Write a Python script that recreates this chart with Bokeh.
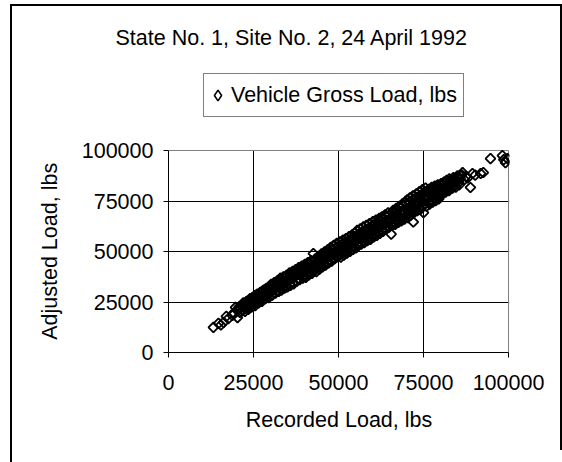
import numpy as np
from bokeh.plotting import figure
from bokeh.models import (ColumnDataSource, Range1d, FixedTicker, Legend, LegendItem)
from bokeh.embed import file_html
from bokeh.resources import INLINE

# ---------------- data ----------------
title_text = "State No. 1, Site No. 2, 24 April 1992"
series_name = "Vehicle Gross Load, lbs"
x_title = "Recorded Load, lbs"
y_title = "Adjusted Load, lbs"
tick_values = [0, 25000, 50000, 75000, 100000]
tick_labels = ["0", "25000", "50000", "75000", "100000"]

light_x = [13200, 14700, 16200, 17600, 18800, 20300, 19700, 15400, 17000, 19200]
light_y = [12400, 14400, 14900, 16800, 18300, 17300, 22300, 13600, 17900, 19600]

b_x = [20500, 21000, 21400, 21800, 22200, 22600, 23000, 23400, 23800, 24200,
       24600, 25000, 25400, 25800, 26200, 26600, 27000, 27400, 27800, 28200,
       28600, 29000, 29400, 29800, 20800, 22400, 24000, 25600, 27200, 28800]
b_y = [21500, 19800, 23200, 21000, 24000, 21800, 25200, 22600, 26000, 23300,
       27000, 24200, 28200, 25000, 28800, 26200, 29800, 26800, 30600, 27600,
       31500, 28400, 32200, 29200, 22600, 23000, 24800, 26400, 28000, 30000]

c_x = [30200, 30500, 30800, 31100, 31400, 31700, 32000, 32300, 32600, 32900,
       33200, 33500, 33800, 34100, 34400, 34700, 35000, 35300, 35600, 35900,
       36200, 36500, 36800, 37100, 37400, 37700, 38000, 38300, 38600, 38900,
       39200, 39500, 39800, 31000, 36000]
c_y = [33800, 28600, 31500, 34600, 29500, 32400, 35500, 30200, 33600, 36800,
       30800, 34200, 37400, 31800, 35000, 38200, 32500, 36000, 39400, 33200,
       37000, 40200, 34000, 38000, 41000, 35200, 38800, 42000, 36000, 39800,
       42800, 36800, 40600, 31200, 36400]

d_x = [40100, 40400, 40700, 41000, 41300, 41600, 41900, 42200, 42600, 42900,
       43200, 43500, 43800, 44100, 44400, 44700, 45000, 45300, 45600, 45900,
       46200, 46500, 46800, 47100, 47400, 47700, 48000, 48300, 48600, 48900,
       49200, 49500, 49800, 42000, 47000]
d_y = [43600, 37200, 41000, 44500, 38400, 42200, 45400, 39200, 49000, 43200,
       46400, 40000, 44000, 47600, 41200, 45000, 48800, 42400, 46400, 49800,
       43200, 47200, 50800, 44400, 48200, 52000, 45200, 49000, 53000, 46400,
       50200, 54000, 47400, 42600, 47400]

e_x = [50100, 50400, 50700, 51000, 51300, 51600, 51900, 52200, 52500, 52800,
       53100, 53400, 53700, 54000, 54300, 54600, 54900, 55200, 55500, 55800,
       56100, 56400, 56700, 57000, 57300, 57600, 57900, 58200, 58500, 58800,
       59100, 59400, 59700, 52000, 57000]
e_y = [51000, 54800, 47200, 52200, 55600, 48200, 53200, 56400, 49200, 54000,
       57400, 50000, 55200, 58200, 51000, 56000, 59200, 51800, 60500, 53000,
       58000, 61200, 53600, 58800, 62200, 54400, 59800, 63000, 55400, 60600,
       63800, 56000, 61400, 52400, 57200]

f_x = [60100, 60400, 60700, 61000, 61300, 61600, 61900, 62200, 62500, 62800,
       63100, 63400, 63700, 64000, 64300, 64600, 64900, 65200, 65500, 65800,
       66100, 66400, 66700, 67000, 67300, 67600, 67900, 68200, 68500, 68800,
       69100, 69400, 69700, 62000, 67000]
f_y = [64800, 57200, 61000, 65600, 58000, 62200, 66000, 59000, 63200, 67200,
       60000, 64200, 68200, 61000, 65000, 69200, 62000, 66200, 58600, 63000,
       70400, 67000, 63400, 71400, 68200, 64400, 72400, 69200, 65200, 73600,
       70000, 66000, 74600, 66400, 67400]

g_x = [70100, 70400, 70700, 71000, 71300, 71600, 71900, 72000, 72300, 72600,
       72900, 73200, 73500, 73800, 74100, 74400, 74700, 75000, 75300, 75600,
       75900, 76200, 76500, 76800, 77100, 77400, 77700, 78000, 78300, 78600,
       78900, 79200, 79500, 79800, 71500, 73500, 75500, 77500]
g_y = [75400, 66800, 71200, 76600, 68000, 72400, 77600, 64600, 69400, 73600,
       78600, 70200, 74800, 79600, 70800, 75600, 80600, 69200, 76200, 81400,
       72400, 77000, 80800, 73400, 78000, 81800, 74400, 78600, 82400, 75200,
       79200, 83000, 76000, 80000, 72000, 74000, 76200, 77800]

h_x = [80200, 80600, 81000, 81400, 81800, 82200, 82600, 83000, 83400, 83800,
       84200, 84600, 85000, 85400, 85800, 86200, 86500, 87000, 87500, 88000,
       88800, 89400, 90200, 91800, 92600]
h_y = [83600, 79400, 84400, 80600, 85200, 81400, 86000, 82200, 84800, 86600,
       83000, 85400, 87400, 84200, 86000, 88000, 89100, 85600, 87200, 86400,
       81700, 88600, 87800, 88600, 89100]

heavy_x = [94700, 98200, 99700, 99100, 98600]
heavy_y = [96000, 97500, 96000, 94000, 95500]

core_x = [21200, 22000, 22800, 23600, 24400, 25200, 26000, 26800, 27600, 28400, 29200, 30000,
          30700, 31400, 32100, 32800, 33500, 34200, 34900, 35600, 36300, 37000, 37700, 38400, 39100, 39800,
          40500, 41200, 41900, 42600, 43300, 44000, 44700, 45400, 46100, 46800, 47500, 48200, 48900, 49600,
          50300, 51000, 51700, 52400, 53100, 53800, 54500, 55200, 55900, 56600, 57300, 58000, 58700, 59400,
          60100, 60800, 61500, 62200, 62900, 63600, 64300, 65000, 65700, 66400, 67100, 67800, 68500, 69200, 69900,
          70600, 71300, 72000, 72700, 73400, 74100, 74800, 75500, 76200, 76900, 77600, 78300, 79000, 79700,
          80400, 81100, 81800, 82500, 83200, 83900, 84600]
core_y = [22000, 22900, 23400, 24600, 25100, 26300, 26700, 27900, 28300, 29500, 29800, 31200,
          31800, 32000, 33400, 33200, 34900, 34800, 36200, 36000, 37600, 37200, 38900, 38600, 40300, 40000,
          41600, 41400, 43000, 42700, 44300, 44100, 45800, 45500, 47000, 46900, 48400, 48300, 49800, 49700,
          51200, 50800, 52600, 52100, 54000, 53500, 55400, 55000, 56800, 56300, 58200, 57800, 59600, 59200,
          61000, 60600, 62600, 62000, 64000, 63300, 65400, 64700, 66800, 66100, 68300, 67400, 69700, 68800, 71000,
          70400, 72600, 71800, 74000, 73100, 75300, 74400, 76600, 75800, 77900, 77200, 79300, 78600, 80600,
          80600, 82000, 81900, 83600, 83700, 84600, 85200]

upper_x = [22000, 23000, 24000, 25000, 26000, 27000, 28000, 29000, 30000, 31000,
           32000, 33000, 34000, 35000, 36000, 37000, 38000, 39000, 40000, 41000,
           42000, 43000, 44000, 45000, 46000, 47000, 48000, 49000, 50000, 51000,
           52000, 53000, 54000, 55000, 56000, 57000, 58000, 59000, 60000, 61000,
           62000, 63000, 64000, 65000, 66000, 67000, 68000, 69000, 70000, 71000,
           72000, 73000, 74000, 75000, 76000, 77000, 78000, 79000, 80000, 81000,
           82000, 83000, 84000, 85000, 86000]
upper_y = [24600, 25300, 26700, 27400, 28800, 29500, 30900, 31600, 32800, 33900,
           34600, 35900, 36500, 37800, 38600, 39700, 40400, 41800, 42600, 43500,
           44800, 45400, 46800, 47500, 48700, 49600, 50800, 51400, 52700, 53600,
           54800, 55500, 56900, 57600, 58800, 59800, 60900, 61700, 63000, 63900,
           65200, 66000, 67300, 68200, 69400, 70300, 71700, 72500, 73800, 74600,
           75900, 76800, 77800, 78900, 79700, 80600, 81400, 82300, 82900, 83800,
           84500, 85300, 85900, 86800, 87400]

lower_x = [22500, 23500, 24500, 25500, 26500, 27500, 28500, 29500, 30500, 31500,
           32500, 33500, 34500, 35500, 36500, 37500, 38500, 39500, 40500, 41500,
           42500, 43500, 44500, 45500, 46500, 47500, 48500, 49500, 50500, 51500,
           52500, 53500, 54500, 55500, 56500, 57500, 58500, 59500, 60500, 61500,
           62500, 63500, 64500, 65500, 66500, 67500, 68500, 69500, 70500, 71500,
           72500, 73500, 74500, 75500, 76500, 77500, 78500, 79500, 80500, 81500,
           82500, 83500, 84500, 85500]
lower_y = [20400, 21300, 22600, 23200, 24500, 25300, 26600, 27200, 28400, 29500,
           30400, 31600, 32300, 33700, 34400, 35600, 36500, 37600, 38300, 39700,
           40400, 41700, 42300, 43600, 44500, 45600, 46300, 47700, 48400, 49600,
           50300, 51700, 52400, 53600, 54500, 55400, 56600, 57300, 58600, 59400,
           60300, 61700, 62400, 63500, 64600, 65300, 66700, 67400, 68500, 69600,
           70200, 71600, 72300, 73500, 74400, 75200, 76500, 77200, 78300, 79400,
           80100, 81300, 81900, 83000]

recorded_load = (light_x + b_x + core_x + upper_x + lower_x + c_x + d_x + e_x
                 + f_x + g_x + h_x + heavy_x)
adjusted_load = (light_y + b_y + core_y + upper_y + lower_y + c_y + d_y + e_y
                 + f_y + g_y + h_y + heavy_y)

# ---------------- layout (pixels) ----------------
FONT = "Liberation Sans"
FS = "21.5px"
LEFT, TOP, BOTTOM = 168, 72, 94
PLOT_W, PLOT_H = 340, 202          # the value area 0..100000 x 0..100000
EXTRA_TOP = 78                     # frame space above the value area (legend lives there)
FRAME_W, FRAME_H = PLOT_W + 1, PLOT_H + EXTRA_TOP
RIGHT = 546 - LEFT - FRAME_W

lo, hi = tick_values[0], tick_values[-1]
x_end = hi * FRAME_W / PLOT_W
y_end = hi * FRAME_H / PLOT_H

p = figure(frame_width=FRAME_W, frame_height=FRAME_H,
           min_border_left=LEFT, min_border_right=RIGHT,
           min_border_top=TOP, min_border_bottom=BOTTOM,
           x_range=Range1d(lo, x_end), y_range=Range1d(lo, y_end),
           output_backend="svg", toolbar_location=None, tools="",
           title=title_text)
# outer chart border: left and top lines behind a transparent canvas,
# continued (with the right-hand line) just outside the plot element
p.styles = {
    "background": ("linear-gradient(#000,#000) 10px 4px / 2px calc(100% - 4px) no-repeat, "
                   "linear-gradient(#000,#000) 10px 4px / calc(100% - 10px) 2px no-repeat, "
                   "#ffffff"),
    "box-shadow": ("12px 16px 0 0 #fff, 10px 16px 0 0 #000, "
                   "14px 6px 0 0 #fff, 16px 4px 0 0 #000, 14px 4px 0 0 #000"),
}
p.background_fill_color = "white"
p.border_fill_alpha = 0
p.outline_line_color = None

p.title.align = "left"
p.title.offset = -53
p.title.standoff = 46
p.title.text_font = FONT
p.title.text_font_size = FS
p.title.text_font_style = "normal"
p.title.text_color = "black"

# gridlines inside the value area (vertical ones as segments so they stop at 100000)
grid_x = tick_values[1:-1]
p.segment(x0=grid_x, y0=[lo] * len(grid_x), x1=grid_x, y1=[hi] * len(grid_x),
          line_color="black", line_width=1)
p.xgrid.visible = False
p.ygrid.ticker = FixedTicker(ticks=tick_values[1:-1])
p.ygrid.grid_line_color = "black"
p.ygrid.grid_line_width = 1
# grey plot-area edge (top and right)
p.line(x=[lo, hi, hi], y=[hi, hi, lo], line_color="#808080", line_width=1)

src = ColumnDataSource(dict(x=recorded_load, y=adjusted_load))
r = p.scatter("x", "y", source=src, marker="square", angle=np.pi / 4, size=7,
              fill_alpha=0, line_color="black", line_width=1.8)
# legend swatch for the same series, drawn as a diamond (no visible point)
swatch = p.scatter(x=[np.nan], y=[np.nan], marker="diamond", fill_alpha=0,
                   line_color="black", line_width=1.6)

for ax in (p.xaxis[0], p.yaxis[0]):
    ax.ticker = FixedTicker(ticks=tick_values)
    ax.bounds = (lo, hi)
    ax.major_label_overrides = {v: s for v, s in zip(tick_values, tick_labels)}
    ax.major_label_text_font = FONT
    ax.major_label_text_font_size = FS
    ax.major_label_text_color = "black"
    ax.axis_label_text_font = FONT
    ax.axis_label_text_font_size = FS
    ax.axis_label_text_font_style = "normal"
    ax.axis_label_text_color = "black"
    ax.axis_line_color = "black"
    ax.major_tick_line_color = "black"
    ax.major_tick_out = 5
    ax.major_tick_in = 0
    ax.minor_tick_out = 0
    ax.minor_tick_in = 0

p.xaxis.axis_label = x_title
# the frame reaches above the value area, so trailing blanks keep the label
# centred on the 0..100000 span (as in the reference)
p.yaxis.axis_label = y_title + " " * 13
p.xaxis.major_label_standoff = 17
p.yaxis.major_label_standoff = 10
p.xaxis.axis_label_standoff = 15
p.yaxis.axis_label_standoff = 17

legend = Legend(items=[LegendItem(label=series_name, renderers=[swatch])],
                location=(35, 235), orientation="vertical",
                padding=0, margin=0, spacing=0,
                label_height=42, glyph_height=42, glyph_width=27,
                label_standoff=0, label_width=232,
                label_text_font=FONT, label_text_font_size=FS,
                label_text_color="black",
                border_line_color="black", border_line_width=1,
                background_fill_color="white", background_fill_alpha=1)
p.add_layout(legend, "center")

open("out.html", "w").write(file_html(p, INLINE))
